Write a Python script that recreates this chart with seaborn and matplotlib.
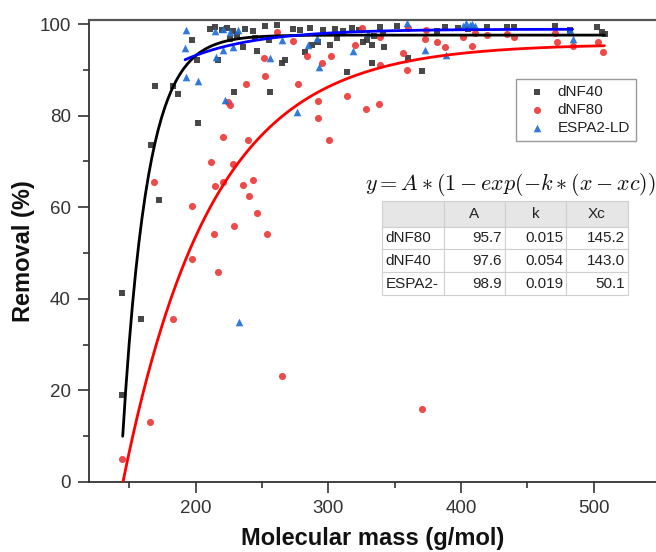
import numpy as np
import pandas as pd
import matplotlib
matplotlib.use("Agg")
import matplotlib.pyplot as plt
from matplotlib.ticker import MultipleLocator
import seaborn as sns

# ---------------- data ----------------
series_names = ["dNF40", "dNF80", "ESPA2-LD"]

dnf40_x = [144.5, 144.7, 158.8, 166.3, 169.3, 172.6, 183.1, 186.9, 197.0, 200.8,
           202.0, 217.0, 229.1, 235.9, 246.0, 256.0, 264.8, 267.3, 282.4, 287.4,
           301.2, 306.3, 313.8, 326.3, 328.9, 332.6, 332.6, 338.9, 341.4, 341.9,
           360.2, 370.3, 381.6, 387.9, 419.3, 434.4, 440.1, 470.8, 482.1, 502.2,
           505.9, 508.4,
           210.8, 214.5, 219.6, 223.4, 228.3, 237.2, 243.4, 252.2, 261.0, 273.5,
           278.6, 286.1, 296.2, 304.9, 311.0, 318.0, 323.0,
           226.0, 231.0, 245.0, 255.0, 292.0, 334.0, 352.0, 398.0, 405.0]
dnf40_y = [19.0, 41.3, 35.7, 73.6, 86.5, 61.6, 86.5, 84.7, 96.5, 92.1,
           78.3, 92.1, 85.2, 95.0, 94.1, 85.2, 91.4, 92.1, 93.9, 95.5,
           95.5, 96.9, 89.5, 96.1, 96.5, 95.4, 91.4, 99.4, 98.0, 94.9,
           92.7, 89.7, 98.5, 99.4, 99.3, 99.4, 99.4, 99.6, 98.8, 99.4,
           98.3, 97.8,
           98.9, 99.3, 98.7, 99.2, 98.6, 99.0, 98.4, 99.5, 99.7, 99.0,
           98.8, 99.2, 98.7, 99.0, 98.4, 99.2, 98.8,
           96.8, 97.6, 97.0, 96.5, 96.0, 97.5, 99.6, 99.2, 98.9]

dnf80_x = [144.5, 165.6, 183.1, 168.8, 197.2, 197.4, 211.3, 214.0, 214.5, 217.0,
           220.8, 220.8, 224.6, 225.5, 227.9, 229.1, 235.4, 237.7, 239.6, 240.2,
           243.0, 246.0, 251.5, 252.2, 254.0, 261.0, 264.8, 273.1, 277.3, 283.6,
           291.9, 292.4, 294.9, 300.7, 301.7, 313.8, 320.0, 325.1, 328.3, 338.1,
           338.9, 338.9, 356.4, 359.0, 360.2, 370.6, 373.5, 372.8, 381.6, 387.9,
           401.7, 408.0, 410.5, 419.3, 434.4, 440.1, 470.8, 472.0, 484.1, 502.9,
           507.2]
dnf80_y = [5.1, 13.0, 35.7, 65.6, 48.8, 60.3, 69.9, 54.1, 64.6, 45.9,
           65.6, 75.3, 83.0, 82.3, 69.4, 55.9, 64.8, 86.9, 74.8, 62.4,
           65.9, 58.8, 92.5, 88.6, 54.1, 98.2, 23.2, 96.4, 86.9, 93.0,
           79.4, 83.3, 91.4, 74.8, 93.0, 84.3, 95.4, 99.1, 81.4, 82.5,
           97.2, 91.0, 93.6, 90.0, 99.1, 15.9, 98.8, 96.7, 96.1, 94.9,
           97.2, 95.2, 98.0, 97.6, 97.9, 97.2, 98.0, 96.1, 95.2, 96.1,
           94.0]

espa_x = [192.5, 191.9, 192.5, 202.0, 222.1, 215.3, 220.8, 228.3, 214.5, 220.8,
          225.8, 232.1, 232.9, 256.0, 264.8, 276.6, 284.9, 291.2, 292.7, 318.8,
          330.1, 359.5, 372.8, 388.6, 401.5, 404.0, 406.5, 408.5, 410.5, 482.1,
          484.1]
espa_y = [98.8, 94.8, 88.5, 87.6, 83.4, 92.9, 94.3, 95.0, 98.5, 98.9,
          98.3, 98.7, 35.0, 92.7, 96.5, 80.7, 95.4, 96.9, 90.7, 94.2,
          98.0, 100.3, 94.3, 93.2, 99.6, 100.2, 99.8, 100.0, 99.5, 98.8,
          96.7]

# fit parameters (from the table in the chart): y = A*(1-exp(-k*(x-xc)))
fit_labels = ["dNF80", "dNF40", "ESPA2-"]
fit_series = ["dNF80", "dNF40", "ESPA2-LD"]
fit_A = [95.7, 97.6, 98.9]
fit_k = [0.015, 0.054, 0.019]
fit_xc = [145.2, 143.0, 50.1]
fit_start = [145.2, 145.0, 192.0]
fit_end = [508.0, 508.0, 484.0]

x_ticks = [200, 300, 400, 500]
y_ticks = [0, 20, 40, 60, 80, 100]

# ---------------- style ----------------
sns.set_theme(style="ticks")
plt.rcParams["font.family"] = ["Liberation Sans", "DejaVu Sans"]
plt.rcParams["mathtext.fontset"] = "cm"

colors = {"dNF40": "#383838", "dNF80": "#ee3a3a", "ESPA2-LD": "#1f6fd8"}
line_colors = {"dNF40": "#000000", "dNF80": "#ff0000", "ESPA2-LD": "#0000ff"}
markers = {"dNF40": "s", "dNF80": "o", "ESPA2-LD": "^"}
sizes = {"dNF40": 20, "dNF80": 26, "ESPA2-LD": 30}

fig = plt.figure(figsize=(6.56, 5.52), dpi=100)
ax = fig.add_axes([89 / 656, (552 - 482) / 552, 567.2 / 656, 462 / 552])

frames = {
    "dNF40": pd.DataFrame({"mass": dnf40_x, "removal": dnf40_y}),
    "dNF80": pd.DataFrame({"mass": dnf80_x, "removal": dnf80_y}),
    "ESPA2-LD": pd.DataFrame({"mass": espa_x, "removal": espa_y}),
}
for name in series_names:
    sns.scatterplot(data=frames[name], x="mass", y="removal", ax=ax,
                    color=colors[name], marker=markers[name], s=sizes[name],
                    linewidth=0, alpha=0.92, label=name, zorder=3)

handles, labels = ax.get_legend_handles_labels()

for i, name in enumerate(fit_series):
    xs = np.linspace(fit_start[i], fit_end[i], 300)
    ys = fit_A[i] * (1 - np.exp(-fit_k[i] * (xs - fit_xc[i])))
    sns.lineplot(x=xs, y=ys, ax=ax, color=line_colors[name], lw=2.0,
                 legend=False, zorder=4, sort=False)

ax.set_xlim(119.6, 547)
ax.set_ylim(0, 100.9)
ax.set_xticks(x_ticks)
ax.set_yticks(y_ticks)
ax.xaxis.set_minor_locator(MultipleLocator(50))
ax.yaxis.set_minor_locator(MultipleLocator(10))
ax.tick_params(which="major", direction="out", length=8, width=1.2,
               color="#333333", labelsize=13.5, labelcolor="#333333", pad=5)
ax.tick_params(which="minor", direction="out", length=4, width=1.2,
               color="#333333")
for side in ["left", "bottom", "top"]:
    ax.spines[side].set_visible(True)
    ax.spines[side].set_color("#333333")
    ax.spines[side].set_linewidth(1.3)
ax.spines["top"].set_color("#555555")
ax.spines["top"].set_linewidth(1.6)
ax.spines["right"].set_visible(False)
ax.grid(False)

ax.set_xlabel("Molecular mass (g/mol)", fontsize=17, fontweight="bold",
              color="#111111")
ax.set_ylabel("Removal (%)", fontsize=17, fontweight="bold", color="#111111")
ax.xaxis.set_label_coords(0.5, (482 - 527) / 462)
ax.yaxis.set_label_coords((35 - 89) / 567.2, 0.5)

leg = ax.legend(handles, labels, loc="upper right",
                bbox_to_anchor=((636 - 89) / 567.2, (482 - 79) / 462),
                borderaxespad=0, fontsize=11, frameon=True, fancybox=False,
                edgecolor="#9a9a9a", framealpha=1, handletextpad=0.35,
                labelspacing=0.25, borderpad=0.4, handlelength=2.0)
leg.get_frame().set_linewidth(1.0)
for t in leg.get_texts():
    t.set_color("#222222")

# equation
ax.text((365 - 89) / 567.2, (482 - 185) / 462,
        r"$y = A * (1 - exp(-k * (x - xc))$",
        transform=ax.transAxes, fontsize=15.9, ha="left", va="center",
        color="#111111")

# parameter table
col_labels = ["", "A", "k", "Xc"]
cell_text = [[fit_labels[i], f"{fit_A[i]:.1f}", f"{fit_k[i]:.3f}",
              f"{fit_xc[i]:.1f}"] for i in range(len(fit_labels))]
tbl = ax.table(cellText=cell_text, colLabels=col_labels, cellLoc="right",
               bbox=[(382.3 - 89) / 567.2, (482 - 295) / 462,
                     245.4 / 567.2, 94 / 462], zorder=5)
tbl.auto_set_font_size(False)
tbl.set_fontsize(11)
for c in range(len(col_labels)):
    tbl[0, c].set_height(tbl[1, c].get_height() * 1.13)
for (r, c), cell in tbl.get_celld().items():
    cell.set_edgecolor("#cfcfcf")
    cell.set_linewidth(0.8)
    cell.PAD = 0.05
    cell.get_text().set_color("#222222")
    if r == 0:
        cell.set_facecolor("#e6e6e6")
        cell._loc = "center"
        cell.get_text().set_horizontalalignment("center")
    elif c == 0:
        cell._loc = "left"
        cell.get_text().set_horizontalalignment("left")

fig.savefig("out.png", dpi=100)
